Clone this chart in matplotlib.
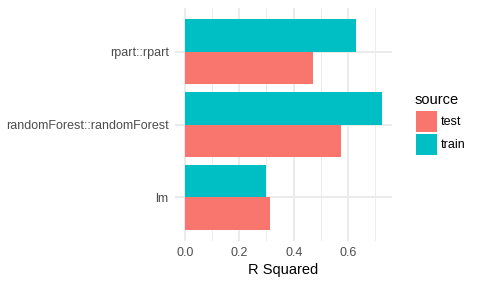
import matplotlib
matplotlib.use("Agg")
import matplotlib.pyplot as plt
from matplotlib.patches import Rectangle
import numpy as np

plt.rcParams['font.family'] = ['Liberation Sans', 'DejaVu Sans']

categories = ["lm", "randomForest::randomForest", "rpart::rpart"]
test_vals = [0.313, 0.574, 0.471]
train_vals = [0.298, 0.725, 0.629]
sources = ["test", "train"]
colors = {"test": "#F8766D", "train": "#00BFC4"}
xticks = [0.0, 0.2, 0.4, 0.6]
xtick_labels = ["0.0", "0.2", "0.4", "0.6"]

W, H = 480, 288
fig = plt.figure(figsize=(W / 100, H / 100), dpi=100)
L, R, T, B = 175, 392, 8, 241
ax = fig.add_axes([L / W, 1 - B / H, (R - L) / W, (B - T) / H])

y = np.arange(len(categories))
bw = 0.45
ax.barh(y - bw / 2, test_vals, height=bw, color=colors["test"], zorder=2)
ax.barh(y + bw / 2, train_vals, height=bw, color=colors["train"], zorder=2)

xmax = max(max(test_vals), max(train_vals))
ex = xmax * 0.05
ax.set_xlim(-ex, xmax + ex)
ax.set_ylim(-0.6, len(categories) - 1 + 0.6)

ax.set_xticks(xticks)
ax.set_xticklabels(xtick_labels)
ax.set_xticks([0.1, 0.3, 0.5, 0.7], minor=True)
ax.set_yticks(y)
ax.set_yticklabels(categories)
ax.grid(True, which='major', color='#EBEBEB', linewidth=1.37, zorder=0)
ax.grid(True, which='minor', axis='x', color='#EBEBEB', linewidth=0.68, zorder=0)
ax.set_axisbelow(True)
for s in ax.spines.values():
    s.set_visible(False)
ax.tick_params(axis='both', which='both', length=0, labelsize=9.0, labelcolor='#4D4D4D')
ax.tick_params(axis='x', pad=4.2)
ax.tick_params(axis='y', pad=4.5)
ax.set_xlabel("R Squared", fontsize=10.56, color='black', labelpad=3)

# legend
fig.text(415 / W, 1 - 100 / H, "source", fontsize=10.56, va='center', ha='left')
key_tops = [111, 134]
for src, kt in zip(sources, key_tops):
    fig.patches.append(Rectangle((416 / W, 1 - (kt + 21) / H), 21 / W, 21 / H,
                                 transform=fig.transFigure, facecolor=colors[src],
                                 edgecolor='white', linewidth=0))
    fig.text(441 / W, 1 - (kt + 11) / H, src, fontsize=9.0, va='center', ha='left')

fig.savefig("out.png", dpi=100)
